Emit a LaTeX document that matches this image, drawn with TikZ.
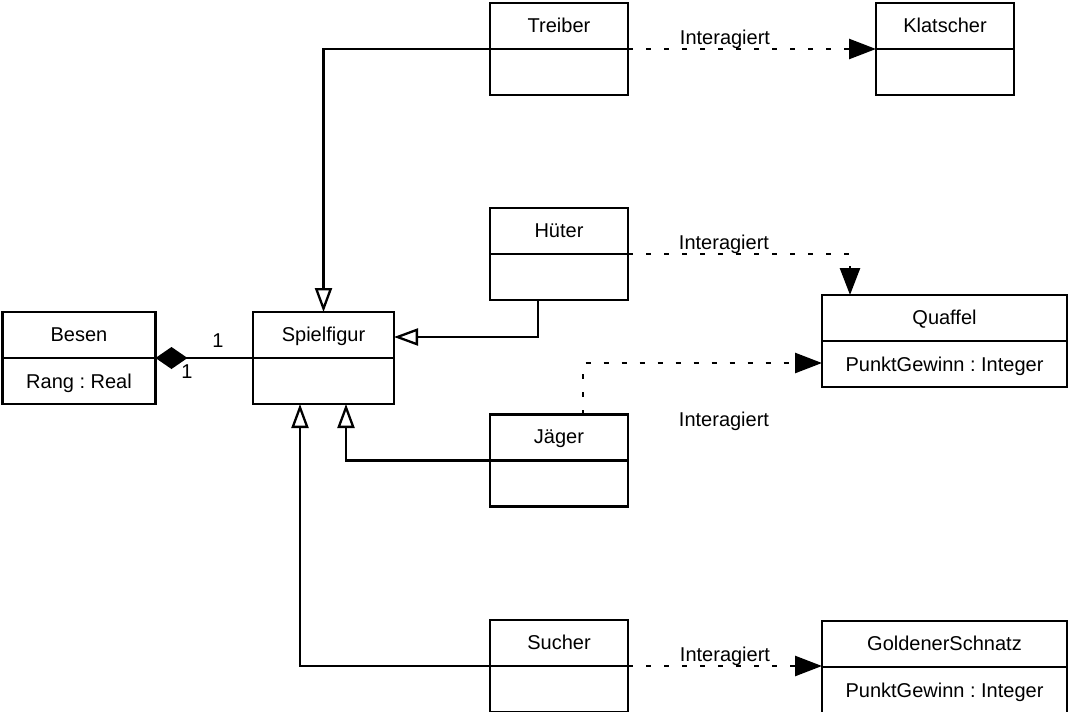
\documentclass[tikz,border=0pt]{standalone}
\usepackage{fontspec}
\setmainfont{Liberation Sans}
\usetikzlibrary{arrows.meta,calc}
\frenchspacing
\begin{document}
\begin{tikzpicture}[x=1pt,y=-1pt,
  every node/.style={font=\fontsize{20}{24}\selectfont},
  cls/.style={draw, line width=2.3pt, minimum height=92pt, inner sep=0pt, outer sep=0pt},
  sepline/.style={line width=2.3pt},
  ttl/.style={anchor=base, inner sep=0pt, yshift=17pt},
  att/.style={anchor=base, inner sep=0pt, yshift=-30pt},
  gen/.style={line width=2.3pt, line join=miter, -{Triangle[open, length=24pt, width=17pt]}},
  dep/.style={line width=2.6pt, dash pattern=on 5pt off 13pt, -{Triangle[length=27pt, width=20pt]}},
  comp/.style={line width=2.3pt, {Diamond[length=32pt, width=22pt]}-},
  lab/.style={anchor=base, inner sep=0pt}]
\useasboundingbox (0,0) rectangle (1069,712);

% classes
\node[cls, minimum width=138pt] (treiber) at (559,49) {};
\draw[sepline] (treiber.west) -- (treiber.east);
\node[ttl] (treiberT) at (treiber.center) {Treiber};

\node[cls, minimum width=138pt] (klatscher) at (945,49) {};
\draw[sepline] (klatscher.west) -- (klatscher.east);
\node[ttl] (klatscherT) at (klatscher.center) {Klatscher};

\node[cls, minimum width=138pt] (hueter) at (559,254) {};
\draw[sepline] (hueter.west) -- (hueter.east);
\node[ttl] (hueterT) at (hueter.center) {Hüter};

\node[cls, minimum width=245pt] (quaffel) at (944.5,341) {};
\draw[sepline] (quaffel.west) -- (quaffel.east);
\node[ttl] (quaffelT) at (quaffel.center) {Quaffel};
\node[att] (quaffelA) at (quaffel.center) {PunktGewinn : Integer};

\node[cls, minimum width=153pt] (besen) at (79,358) {};
\draw[sepline] (besen.west) -- (besen.east);
\node[ttl] (besenT) at (besen.center) {Besen};
\node[att] (besenA) at (besen.center) {Rang : Real};

\node[cls, minimum width=141pt] (spielfigur) at (323.5,358) {};
\draw[sepline] (spielfigur.west) -- (spielfigur.east);
\node[ttl] (spielfigurT) at (spielfigur.center) {Spielfigur};

\node[cls, minimum width=138pt] (jaeger) at (559,460.5) {};
\draw[sepline] (jaeger.west) -- (jaeger.east);
\node[ttl] (jaegerT) at (jaeger.center) {Jäger};

\node[cls, minimum width=138pt] (sucher) at (559,666) {};
\draw[sepline] (sucher.west) -- (sucher.east);
\node[ttl] (sucherT) at (sucher.center) {Sucher};

\node[cls, minimum width=245pt] (schnatz) at (944.5,667) {};
\draw[sepline] (schnatz.west) -- (schnatz.east);
\node[ttl] (schnatzT) at (schnatz.center) {GoldenerSchnatz};
\node[att] (schnatzA) at (schnatz.center) {PunktGewinn : Integer};

% generalizations
\draw[gen] (treiber.west) -| (spielfigur.north);
\draw[gen] ([xshift=-21pt]hueter.south) |- ([yshift=21pt]spielfigur.east);
\draw[gen] (jaeger.west) -| ([xshift=22.5pt]spielfigur.south);
\draw[gen] (sucher.west) -| ([xshift=-23.5pt]spielfigur.south);

% composition
\draw[comp] (besen.east) -- (spielfigur.west);
\node[lab] (m1) at (218,347) {1};
\node[lab] (m2) at (187,378) {1};

% dependencies
\draw[dep] (treiber.east) -- (klatscher.west);
\draw[dep] (hueter.east) -| ([xshift=-94.5pt]quaffel.north);
\draw[dep] ([xshift=24pt]jaeger.north) |- ([yshift=-22pt]quaffel.west);
\draw[dep] (sucher.east) -- (sucher.east -| schnatz.west);

\node[lab] (i1) at (725,44) {Interagiert};
\node[lab] (i2) at (724,249) {Interagiert};
\node[lab] (i3) at (724,426) {Interagiert};
\node[lab] (i4) at (725,661) {Interagiert};
\end{tikzpicture}
\end{document}
